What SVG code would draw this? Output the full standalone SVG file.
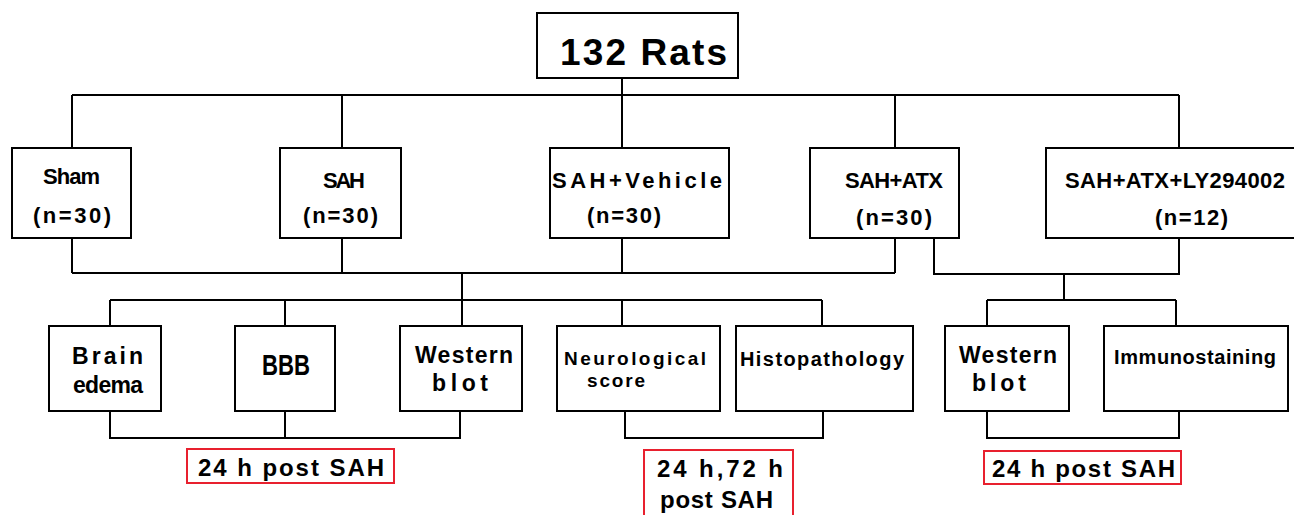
<svg xmlns="http://www.w3.org/2000/svg" width="1294" height="515" viewBox="0 0 1294 515">
<style>
.box{fill:#fff;stroke:#000;stroke-width:2}
.red{fill:#fff;stroke:#e8202e;stroke-width:2}
.ln{fill:none;stroke:#000;stroke-width:2}
text{font-family:"Liberation Sans",Arial,sans-serif;font-weight:bold;fill:#000}
.f22{font-size:22px}
.f23{font-size:23px}
.f20{font-size:20px}
.f19{font-size:19px}
.f24{font-size:24px}
</style>
<rect width="1294" height="515" fill="#fff"/>
<g id="connectors">
<path class="ln" d="M622,78 V148 M72,95 H1179 M72,95 V148 M342,95 V148 M895,95 V148 M1179,95 V148"/>
<path class="ln" d="M72,238 V273 M342,238 V273 M622,238 V273 M895,238 V273 M72,273 H895 M462,273 V326"/>
<path class="ln" d="M110,300 H822 M110,300 V326 M285,300 V326 M622,300 V326 M822,300 V326"/>
<path class="ln" d="M934,238 V274 H1179 V238 M1064,274 V300 M987,300 H1176 M987,300 V326 M1176,300 V326"/>
<path class="ln" d="M110,411 V438 H460 V411 M285,411 V438 M625,411 V438 H823 V411 M987,411 V438 H1179 V411"/>
</g>
<g id="rats">
<rect class="box" x="537" y="13" width="201" height="65"/>
<text x="560" y="65" style="font-size:37px" textLength="167" lengthAdjust="spacing">132 Rats</text>
</g>
<g id="sham">
<rect class="box" x="12" y="148" width="119" height="90"/>
<text class="f22" x="43" y="184" textLength="57" lengthAdjust="spacing">Sham</text>
<text class="f22" x="33" y="223" textLength="78" lengthAdjust="spacing">(n=30)</text>
</g>
<g id="sah">
<rect class="box" x="280" y="148" width="121" height="90"/>
<text class="f22" x="323" y="188" textLength="42" lengthAdjust="spacing">SAH</text>
<text class="f22" x="303" y="223" textLength="75" lengthAdjust="spacing">(n=30)</text>
</g>
<g id="sah-vehicle">
<rect class="box" x="550" y="148" width="179" height="90"/>
<text class="f22" x="552" y="188" textLength="170" lengthAdjust="spacing">SAH+Vehicle</text>
<text class="f22" x="587" y="223" textLength="74" lengthAdjust="spacing">(n=30)</text>
</g>
<g id="sah-atx">
<rect class="box" x="810" y="148" width="149" height="90"/>
<text class="f22" x="845" y="188" textLength="98" lengthAdjust="spacing">SAH+ATX</text>
<text class="f22" x="856" y="225" textLength="76" lengthAdjust="spacing">(n=30)</text>
</g>
<g id="sah-atx-ly">
<rect class="box" x="1046" y="148" width="260" height="90"/>
<text class="f22" x="1065" y="188" textLength="220" lengthAdjust="spacing">SAH+ATX+LY294002</text>
<text class="f22" x="1155" y="225" textLength="73" lengthAdjust="spacing">(n=12)</text>
</g>
<g id="brain-edema">
<rect class="box" x="49" y="326" width="112" height="85"/>
<text class="f23" x="72" y="364" textLength="71" lengthAdjust="spacing">Brain</text>
<text class="f23" x="73" y="393" textLength="70" lengthAdjust="spacing">edema</text>
</g>
<g id="bbb">
<rect class="box" x="235" y="326" width="100" height="85"/>
<text x="262" y="375" style="font-size:29px" textLength="48" lengthAdjust="spacingAndGlyphs">BBB</text>
</g>
<g id="western-blot-1">
<rect class="box" x="400" y="326" width="122" height="85"/>
<text class="f23" x="415" y="363" textLength="98" lengthAdjust="spacing">Western</text>
<text class="f23" x="432" y="391" textLength="56" lengthAdjust="spacing">blot</text>
</g>
<g id="neurological-score">
<rect class="box" x="557" y="326" width="163" height="85"/>
<text class="f19" x="564" y="365" textLength="142" lengthAdjust="spacing">Neurological</text>
<text class="f19" x="587" y="387" textLength="58" lengthAdjust="spacing">score</text>
</g>
<g id="histopathology">
<rect class="box" x="736" y="326" width="177" height="85"/>
<text class="f20" x="740" y="366" textLength="164" lengthAdjust="spacing">Histopathology</text>
</g>
<g id="western-blot-2">
<rect class="box" x="945" y="326" width="124" height="85"/>
<text class="f23" x="959" y="363" textLength="98" lengthAdjust="spacing">Western</text>
<text class="f23" x="972" y="391" textLength="54" lengthAdjust="spacing">blot</text>
</g>
<g id="immunostaining">
<rect class="box" x="1104" y="326" width="184" height="85"/>
<text class="f20" x="1114" y="364" textLength="162" lengthAdjust="spacing">Immunostaining</text>
</g>
<g id="label-24h-left">
<rect class="red" x="187" y="449" width="207" height="34"/>
<text class="f24" x="198" y="476" textLength="186" lengthAdjust="spacing">24 h post SAH</text>
</g>
<g id="label-24h-72h">
<rect class="red" x="644" y="450" width="149" height="75"/>
<text class="f24" x="657" y="477" textLength="126" lengthAdjust="spacing">24 h,72 h</text>
<text class="f24" x="660" y="508" textLength="113" lengthAdjust="spacing">post SAH</text>
</g>
<g id="label-24h-right">
<rect class="red" x="984" y="451" width="197" height="33"/>
<text class="f24" x="992" y="477" textLength="183" lengthAdjust="spacing">24 h post SAH</text>
</g>
</svg>
